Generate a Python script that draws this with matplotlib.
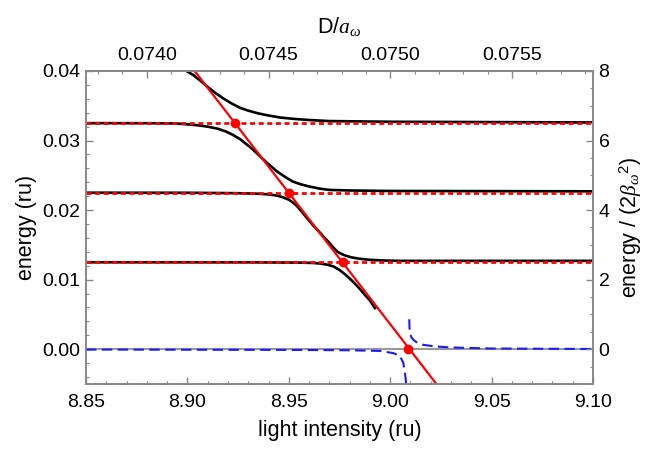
import matplotlib
matplotlib.use("Agg")
import matplotlib.pyplot as plt
from matplotlib.ticker import MultipleLocator, FixedLocator, FormatStrFormatter

plt.rcParams['font.family'] = ['Liberation Sans', 'DejaVu Sans']
plt.rcParams['mathtext.fontset'] = 'custom'
plt.rcParams['mathtext.rm'] = 'Liberation Sans'
plt.rcParams['mathtext.it'] = 'Liberation Serif:italic'

# levels and crossing points
levels = [0.0325, 0.0225, 0.0125]
dot_x = [8.9235, 8.950, 8.9765, 9.009]
dot_y = [0.0325, 0.0225, 0.0125, 0.0]
red_x = [8.9036, 9.0228]
red_y = [0.040, -0.005]

# black adiabatic curves
c1_x = [8.8995, 8.903, 8.906, 8.910, 8.914, 8.918, 8.922, 8.926, 8.930, 8.935, 8.940, 8.946,
        8.953, 8.960, 8.970, 8.985, 9.00, 9.10]
c1_y = [0.0400, 0.0394, 0.0387, 0.0377, 0.0368, 0.0360, 0.0353, 0.0347, 0.0343, 0.0339, 0.0336, 0.0333,
        0.0331, 0.03295, 0.0328, 0.03275, 0.0327, 0.0326]
c2_x = [8.85, 8.88, 8.895, 8.905, 8.910, 8.915, 8.919, 8.9225, 8.926, 8.929, 8.932, 8.9365, 8.940,
        8.944, 8.948, 8.952, 8.956, 8.960, 8.965, 8.970, 8.980, 9.00, 9.10]
c2_y = [0.0325, 0.03249, 0.03245, 0.0322, 0.0320, 0.0317, 0.0313, 0.0308, 0.0302, 0.0295, 0.0288, 0.02755, 0.0266,
        0.0256, 0.0248, 0.0241, 0.0237, 0.0234, 0.0231, 0.0229, 0.02282, 0.02275, 0.0227]
c3_x = [8.85, 8.90, 8.925, 8.935, 8.940, 8.944, 8.947, 8.950, 8.952, 8.954, 8.956, 8.958, 8.960,
        8.962, 8.964, 8.966, 8.968, 8.970, 8.972, 8.974, 8.976, 8.978, 8.981, 8.985, 8.990, 8.997, 9.005, 9.10]
c3_y = [0.0225, 0.02249, 0.02243, 0.02235, 0.02225, 0.0221, 0.02185, 0.0215, 0.0211, 0.0206, 0.0199, 0.0192, 0.0185,
        0.0178, 0.0172, 0.01655, 0.0159, 0.0153, 0.0146, 0.0140, 0.0137, 0.01345, 0.0132, 0.0130, 0.01285, 0.01275, 0.0127, 0.0127]
c4_x = [8.85, 8.93, 8.955, 8.962, 8.966, 8.969, 8.972, 8.975, 8.978, 8.981, 8.984, 8.987, 8.990, 8.9925]
c4_y = [0.0125, 0.01249, 0.01245, 0.0124, 0.0123, 0.01215, 0.0119, 0.0114, 0.0107, 0.0099, 0.0090, 0.0080, 0.0070, 0.0059]

# blue dashed branches near zero
b1_x = [8.85, 8.95, 8.98, 8.995, 9.0015, 9.0048, 9.0065, 9.0073, 9.0077, 9.0079]
b1_y = [-0.00005, -0.0001, -0.00015, -0.00025, -0.00056, -0.00095, -0.002, -0.0035, -0.0044, -0.0052]
b2_x = [9.0094, 9.0095, 9.0097, 9.0105, 9.0114, 9.0135, 9.0163, 9.022, 9.03, 9.05, 9.10]
b2_y = [0.0043, 0.0033, 0.0023, 0.0017, 0.00135, 0.0009, 0.00063, 0.0004, 0.00025, 0.0001, 0.00003]

top_ticks = [0.0740, 0.0745, 0.0750, 0.0755]

fig = plt.figure(figsize=(6.47, 4.51), dpi=100)
ax = fig.add_axes([0.1329, 0.1486, 0.9165 - 0.1329, 0.8426 - 0.1486])

ax.axhline(0, color='#999999', lw=1.5, zorder=1)
for c_x, c_y in [(c1_x, c1_y), (c2_x, c2_y), (c3_x, c3_y), (c4_x, c4_y)]:
    ax.plot(c_x, c_y, color='black', lw=1.9, zorder=2)
for lv in levels:
    ax.axhline(lv, color='#ff0000', lw=2, ls=(0, (1.8, 1.3)), zorder=3)
ax.plot(b1_x, b1_y, color='#1a1aff', lw=1.5, ls=(0, (5, 2.6)), zorder=3)
ax.plot(b2_x, b2_y, color='#1a1aff', lw=1.5, ls=(0, (5, 2.6)), zorder=3)
ax.plot(red_x, red_y, color='#ff0000', lw=1.6, zorder=4)
ax.plot(dot_x, dot_y, 'o', color='#ff0000', ms=6, zorder=5)

ax.set_xlim(8.85, 9.10)
ax.set_ylim(-0.005, 0.04)
ax.xaxis.set_major_locator(MultipleLocator(0.05))
ax.xaxis.set_minor_locator(MultipleLocator(0.01))
ax.xaxis.set_major_formatter(FormatStrFormatter('%.2f'))
ax.yaxis.set_major_locator(MultipleLocator(0.01))
ax.yaxis.set_minor_locator(MultipleLocator(0.002))
ax.yaxis.set_major_formatter(FormatStrFormatter('%.2f'))

tfs = 14
lfs = 15.5
ax.set_xlabel('light intensity (ru)', fontsize=lfs, labelpad=7)
ax.set_ylabel('energy (ru)', fontsize=lfs, labelpad=4)

top = ax.secondary_xaxis('top', functions=(lambda x: x / 120.0, lambda d: d * 120.0))
top.xaxis.set_major_locator(FixedLocator(top_ticks))
top.xaxis.set_minor_locator(MultipleLocator(0.0001))
top.xaxis.set_major_formatter(FormatStrFormatter('%.4f'))
top.set_xlabel(r'D/$a_{\omega}$', fontsize=lfs, labelpad=10)

right = ax.twinx()
right.set_ylim(-1, 8)
right.yaxis.set_major_locator(MultipleLocator(2))
right.yaxis.set_minor_locator(MultipleLocator(0.5))
right.set_ylabel(r'energy / (2$\beta_{\omega}{}^{2}$)', fontsize=lfs, labelpad=6)

for a in [ax, right, top]:
    a.tick_params(which='both', direction='in', color='#888888', labelsize=tfs, pad=4)
    a.tick_params(which='major', length=5, width=1)
    a.tick_params(which='minor', length=2.5, width=0.8)
ax.tick_params(axis='x', which='both', pad=7)
top.tick_params(which='both', pad=5)
for a in [ax, right]:
    for s in a.spines.values():
        s.set_color('#888888')
        s.set_linewidth(1.2)
top.spines['top'].set_color('#888888')
top.spines['top'].set_linewidth(1.2)
ax.tick_params(axis='x', which='both', top=False)

fig.savefig('out.png', dpi=100)
